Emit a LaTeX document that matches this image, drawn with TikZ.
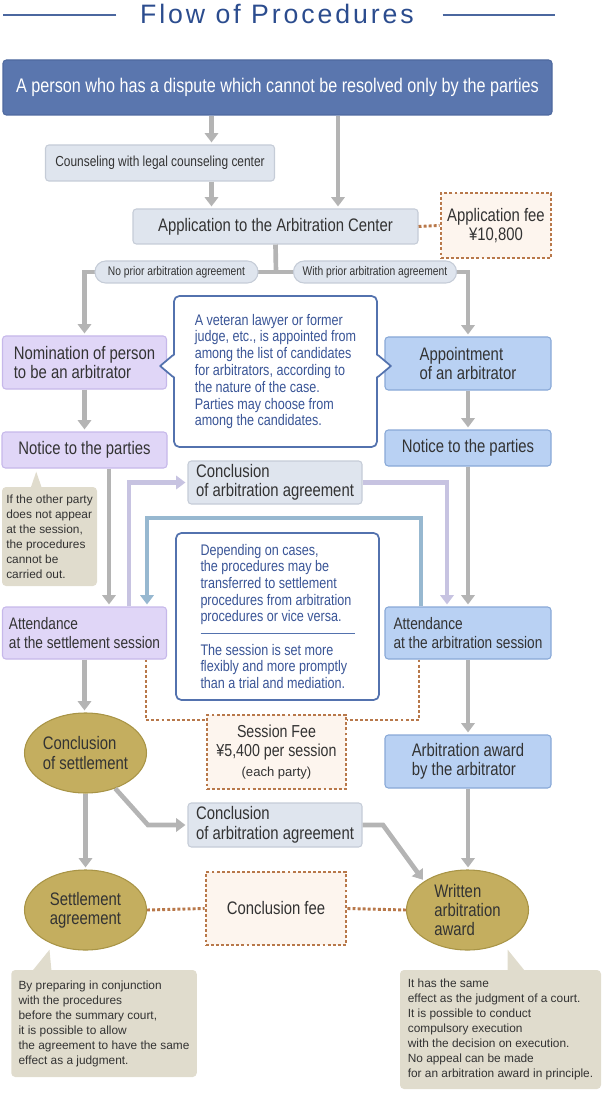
\documentclass[tikz,border=0pt]{standalone}
\usepackage{fontspec}
\setmainfont{Liberation Sans}[FakeStretch=0.82]
\newfontfamily\notefont{Liberation Sans}
\newfontfamily\titlefont{Liberation Sans}[LetterSpace=11]
\usetikzlibrary{shapes.geometric,arrows.meta,calc}
\definecolor{titleb}{HTML}{2B4C8E}
\definecolor{bannerf}{HTML}{5A76AE}
\definecolor{bannerd}{HTML}{4E699F}
\definecolor{greyf}{HTML}{DFE5EE}
\definecolor{greyd}{HTML}{C5CCD7}
\definecolor{lavf}{HTML}{E0D6F7}
\definecolor{lavd}{HTML}{C6B8EA}
\definecolor{bluef}{HTML}{B9D1F3}
\definecolor{blued}{HTML}{88A8D7}
\definecolor{olivef}{HTML}{C4AE5F}
\definecolor{olived}{HTML}{A89446}
\definecolor{notef}{HTML}{E0DCCD}
\definecolor{feef}{HTML}{FDF5EE}
\definecolor{feed}{HTML}{B8784A}
\definecolor{infod}{HTML}{5372AE}
\definecolor{infot}{HTML}{3A5597}
\definecolor{arrg}{HTML}{B4B4B4}
\definecolor{purp}{HTML}{C7C3E1}
\definecolor{bluel}{HTML}{97B8D0}
\definecolor{txt}{HTML}{333333}
\begin{document}
\begin{tikzpicture}[x=0.75pt,y=-0.75pt,
  sz/.style 2 args={minimum width=#1*0.75pt,minimum height=#2*0.75pt},
  stage/.style={draw,rounded corners=2.5pt,line width=0.8pt,inner sep=0pt,align=left,text=txt,font=\fontsize{13.6}{14.6}\selectfont},
  greybox/.style={stage,fill=greyf,draw=greyd},
  lavbox/.style={stage,fill=lavf,draw=lavd},
  bluebox/.style={stage,fill=bluef,draw=blued},
  goal/.style={ellipse,fill=olivef,draw=olived,line width=0.8pt,inner sep=-6pt,align=left,text=txt,font=\fontsize{13.6}{14.3}\selectfont,sz={122}{80}},
  feebox/.style={draw=feed,fill=feef,line width=2.2pt,dash pattern=on 2.2pt off 1.6pt,inner sep=0pt,align=center,text=txt,font=\fontsize{13.6}{14.6}\selectfont},
  remark/.style={fill=notef,rounded corners=3pt,inner sep=0pt,align=left,text=txt,font=\notefont\fontsize{8.9}{11.25}\selectfont},
  infobox/.style={draw=infod,fill=white,line width=1.3pt,rounded corners=4pt,inner sep=0pt,align=left,text=infot,font=\fontsize{11.5}{12.6}\selectfont},
  pill/.style={greybox,rounded corners=8pt,font=\fontsize{9.4}{10}\selectfont},
  gline/.style={draw=arrg,line width=3.5pt},
  garrow/.style={gline,-{Triangle[width=10pt,length=7pt]},shorten >=1.5pt},
  parrow/.style={draw=purp,line width=3.5pt,-{Triangle[width=10pt,length=7pt]},shorten >=1.5pt},
  barrow/.style={draw=bluel,line width=3.5pt,-{Triangle[width=10pt,length=7pt]},shorten >=1.5pt},
  dotline/.style={draw=feed,line width=2.2pt,dash pattern=on 2.2pt off 1.6pt}]
\useasboundingbox (0,0) rectangle (605,1094);
\node[font=\titlefont\fontsize{20}{24}\selectfont,text=titleb] (title) at (277,14) {Flow of Procedures};
\draw[titleb!85,line width=1.1pt] (title.west) ++(-19,1) -- ++(-113,0) (title.east) ++(24,1) -- ++(112,0);
\node[stage,fill=bannerf,draw=bannerd,sz={549}{55},text=white,font=\fontsize{14.8}{16}\selectfont] (banner) at (277.5,87.5) {A person who has a dispute which cannot be resolved only by the parties};
\node[greybox,sz={229}{36},font=\fontsize{10.9}{12}\selectfont] (couns) at (160,163) {Counseling with legal counseling center};
\node[greybox,sz={285}{35}] (app) at (275.5,226.5) {Application to the Arbitration Center};
\node[feebox,sz={110}{65}] (appfee) at (496,225.5) {Application fee\\¥10,800};
\node[lavbox,sz={164}{53}] (nom) at (84.5,362.5) {Nomination of person\\to be an arbitrator};
\node[bluebox,sz={166}{53}] (appt) at (468,363.5) {Appointment\\of an arbitrator};
\node[lavbox,sz={165}{36}] (noticeL) at (84.5,450) {Notice to the parties};
\node[bluebox,sz={166}{36}] (noticeR) at (468,448) {Notice to the parties};
\node[remark,sz={95}{99}] (noteL) at (49.5,536.5) {If the other party\\does not appear\\at the session,\\the procedures\\cannot be\\carried out.};
\node[greybox,sz={174}{43}] (concU) at (275,482.5) {Conclusion\\of arbitration agreement};
\node[infobox,sz={203}{167},font=\fontsize{11.5}{12.5}\selectfont] (info2) at (277.5,616.5) {Depending on cases,\\the procedures may be\\transferred to settlement\\procedures from arbitration\\procedures or vice versa.\\{\color{infod}\rule[3.2pt]{115.5pt}{0.75pt}}\\The session is set more\\flexibly and more promptly\\than a trial and mediation.};
\node[lavbox,sz={164}{52},font=\fontsize{12.5}{14.3}\selectfont] (asettle) at (84.5,633) {Attendance\\at the settlement session};
\node[bluebox,sz={166}{52},font=\fontsize{12.5}{14.3}\selectfont] (aarb) at (468,633) {Attendance\\at the arbitration session};
\node[feebox,sz={139}{74},font=\fontsize{13}{14.6}\selectfont] (sessfee) at (276.5,752) {Session Fee\\¥5,400 per session\\{\notefont\fontsize{9.8}{11}\selectfont(each party)}};
\node[goal] (csettle) at (85.5,753) {Conclusion\\of settlement};
\node[bluebox,sz={166}{53}] (award) at (468,761.5) {Arbitration award\\by the arbitrator};
\node[greybox,sz={174}{44}] (concL) at (275,825) {Conclusion\\of arbitration agreement};
\node[goal,align=center] (settle) at (85.5,910) {Settlement\\agreement};
\node[goal] (written) at (467.5,910) {Written\\arbitration\\award};
\node[feebox,sz={140}{73}] (concfee) at (276,908.5) {Conclusion fee};
\node[remark,sz={185.5}{107}] (noteBL) at (104,1023.5) {By preparing in conjunction\\with the procedures\\before the summary court,\\it is possible to allow\\the agreement to have the same\\effect as a judgment.};
\node[remark,sz={201}{119}] (noteBR) at (500.5,1029.5) {It has the same\\effect as the judgment of a court.\\It is possible to conduct\\compulsory execution\\with the decision on execution.\\No appeal can be made\\for an arbitration award in principle.};
\coordinate (c1) at (211.5,0); \coordinate (c2) at (338,0); \coordinate (split) at (276,272);
\coordinate (c3) at (109,0); \coordinate (c4) at (129,0); \coordinate (c5) at (447,0);
\coordinate (c6) at (421,518); \coordinate (c8) at (147,518);
\coordinate (c9) at (146,0); \coordinate (c10) at (0,720); \coordinate (c11) at (419,0);
\coordinate (c12) at (148,825); \coordinate (c13) at (383,825);
\draw[garrow] (banner.south -| c1) -- (couns.north -| c1);
\draw[garrow] (couns.south -| c1) -- (app.north -| c1);
\draw[garrow] (banner.south -| c2) -- (app.north -| c2);
\draw[dotline] (app.east) -- (appfee.west);
\draw[gline] (app.south) -- (split);
\draw[garrow] (split) -| (nom.north);
\draw[garrow] (split) -| (appt.north);
\node[pill,sz={163}{22}] (noprior) at (176.5,272) {No prior arbitration agreement};
\node[pill,sz={163}{22}] (withprior) at (375,272) {With prior arbitration agreement};
\draw[garrow] (nom.south) -- (noticeL.north);
\draw[garrow] (appt.south) -- (noticeR.north);
\draw[garrow] (noticeL.south -| c3) -- (asettle.north -| c3);
\draw[garrow] (noticeR.south) -- (aarb.north);
\draw[parrow] (asettle.north -| c4) |- (concU.west);
\draw[parrow] (concU.east) -| (aarb.north -| c5);
\draw[barrow] (aarb.north -| c6) -- (c6) -- (c8) -- (asettle.north -| c8);
\draw[dotline] (asettle.south -| c9) |- (sessfee.west |- c10);
\draw[dotline] (aarb.south -| c11) |- (sessfee.east |- c10);
\draw[garrow] (asettle.south) -- (asettle.south |- csettle.north);
\draw[garrow] (aarb.south) -- (award.north);
\draw[garrow] (csettle.-50) -- (c12) -- (concL.west);
\draw[garrow] (concL.east) -- (c13) -- (written.north west);
\draw[garrow] (csettle.south) -- (settle.north);
\draw[garrow] (award.south) -- (award.south |- written.north);
\draw[dotline] (settle.east) -- (concfee.west);
\draw[dotline] (concfee.east) -- (written.west);
\node[infobox,sz={203}{151}] (info) at (275.5,371.5) {A veteran lawyer or former\\judge, etc., is appointed from\\among the list of candidates\\for arbitrators, according to\\the nature of the case.\\Parties may choose from\\among the candidates.};
\fill[white] (info.west) ++(2,-16.5) -- ++(-15,11) -- ++(15,11) -- cycle;
\draw[infod,line width=1.3pt,line join=round] (info.west) ++(0,-16.5) -- ++(-13,11) -- ++(13,11);
\fill[white] (info.east) ++(-2,-16.5) -- ++(15,11) -- ++(-15,11) -- cycle;
\draw[infod,line width=1.3pt,line join=round] (info.east) ++(0,-16.5) -- ++(13,11) -- ++(-13,11);
\fill[notef] (noteL.north west) ++(29,1) -- ++(5.5,-16) -- ++(5.5,16) -- cycle;
\fill[notef] (noteBL.north west) ++(21.5,1) -- ++(17,-21) -- ++(2,21) -- cycle;
\fill[notef] (noteBR.north west) ++(108,1) -- ++(0,-21) -- ++(17,21) -- cycle;
\end{tikzpicture}
\end{document}
